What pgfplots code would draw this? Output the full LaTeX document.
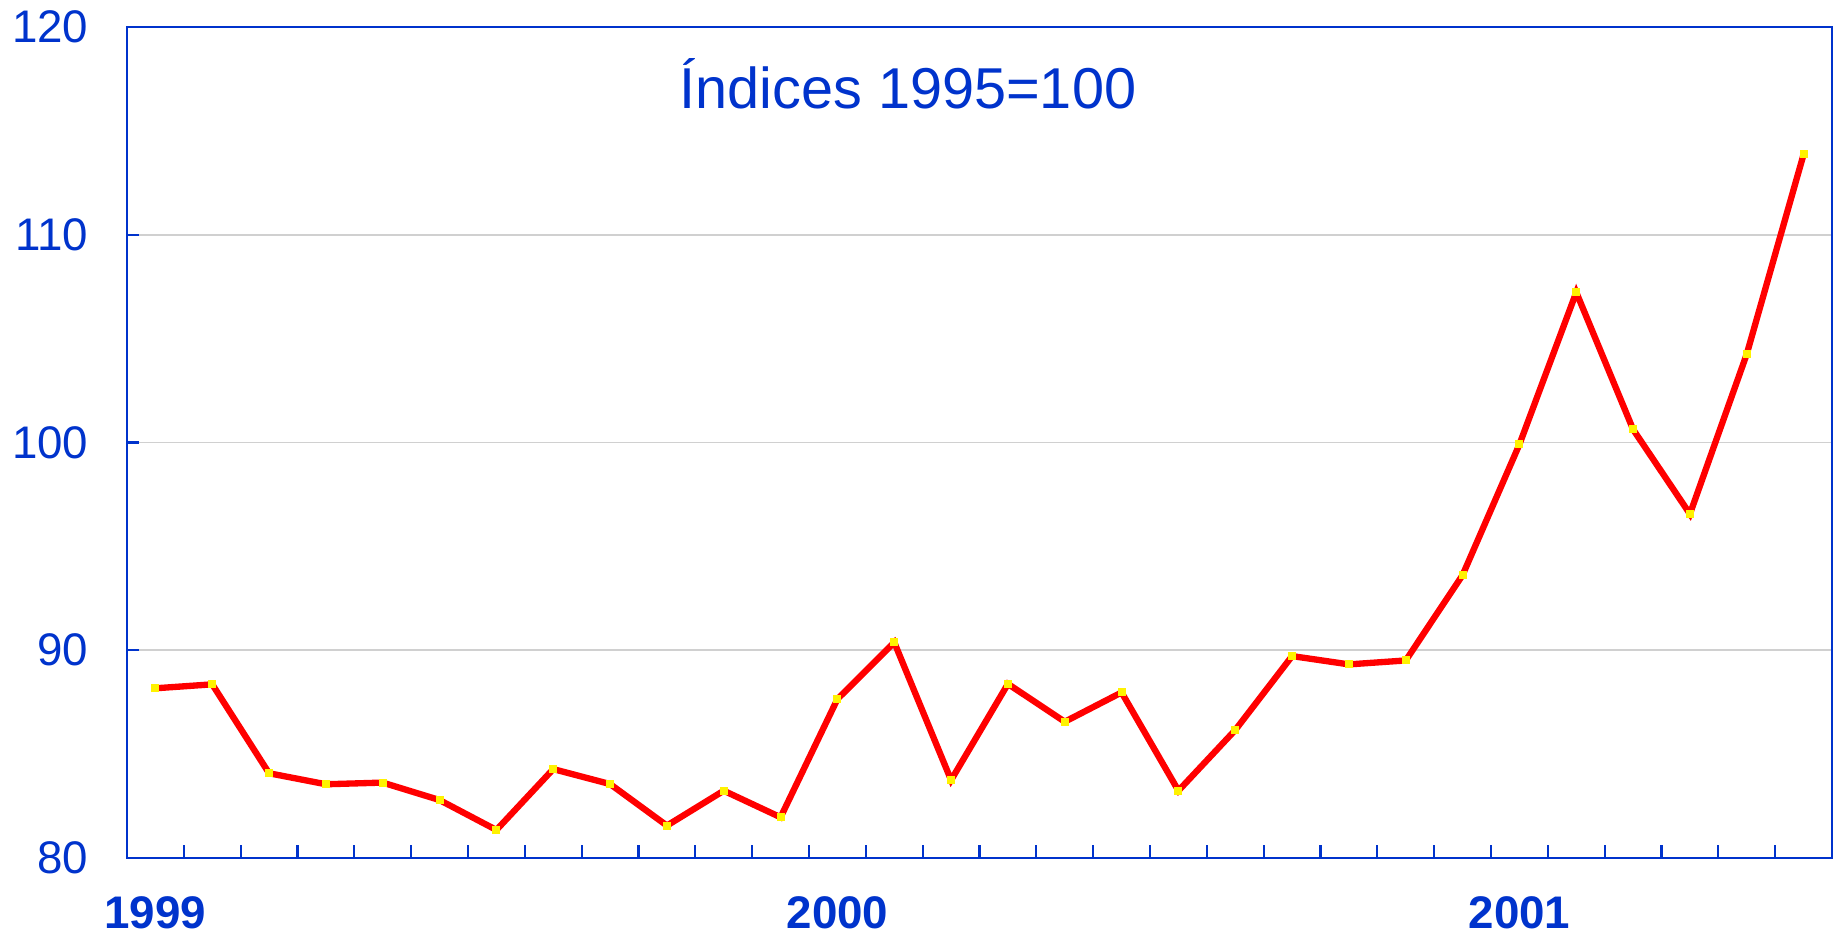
\documentclass[border=0pt]{standalone}
\usepackage{fontspec}
\setmainfont{Liberation Sans}
\usepackage{pgfplots}
\pgfplotsset{compat=1.18}
\definecolor{axblue}{RGB}{0,51,204}
\definecolor{gridgray}{RGB}{208,208,208}
\begin{document}
\begin{tikzpicture}
\useasboundingbox (0,0) rectangle (18.39,9.34);
\begin{axis}[
  at={(1.27cm,0.76cm)}, anchor=south west,
  scale only axis, width=17.05cm, height=8.31cm,
  xmin=-0.5, xmax=29.5, ymin=80, ymax=120,
  /pgf/number format/assume math mode=true,
  axis line style={axblue, line width=0.75pt},
  xtick={0,12,24}, xticklabels={1999,2000,2001},
  major x tick style={draw=none},
  minor xtick={0.5,1.5,...,28.5},
  minor x tick style={axblue, line width=0.6pt},
  minor tick length=0.13cm,
  xtick pos=bottom, ytick pos=left,
  tick align=inside,
  ytick={80,90,100,110,120},
  major y tick style={axblue, line width=0.6pt},
  major tick length=0.12cm,
  ymajorgrids, grid style={gridgray, line width=0.5pt},
  xticklabel style={font=\fontsize{13}{15}\selectfont\bfseries, text=axblue, anchor=north, inner sep=0pt, yshift=-0.38cm},
  yticklabel style={font=\fontsize{13}{15}\selectfont, text=axblue, anchor=east, inner sep=0pt, xshift=-0.38cm},
]
\addplot[red, line width=1.8pt, mark=square*, mark size=1pt,
  mark options={draw=yellow, fill=yellow, line width=0pt}] coordinates {
(0,88.17) (1,88.36) (2,84.08) (3,83.55) (4,83.63) (5,82.79) (6,81.35)
(7,84.28) (8,83.56) (9,81.56) (10,83.24) (11,81.96) (12,87.65) (13,90.38)
(14,83.75) (15,88.38) (16,86.56) (17,87.97) (18,83.24) (19,86.16) (20,89.72)
(21,89.32) (22,89.51) (23,93.62) (24,99.91) (25,107.23) (26,100.63) (27,96.56)
(28,104.26) (29,113.87)
};
\node[anchor=base, text=axblue, font=\fontsize{16.4}{19}\selectfont, inner sep=0pt] at (rel axis cs:0.458,0.9025) {Índices 1995=100};
\end{axis}
\end{tikzpicture}
\end{document}
